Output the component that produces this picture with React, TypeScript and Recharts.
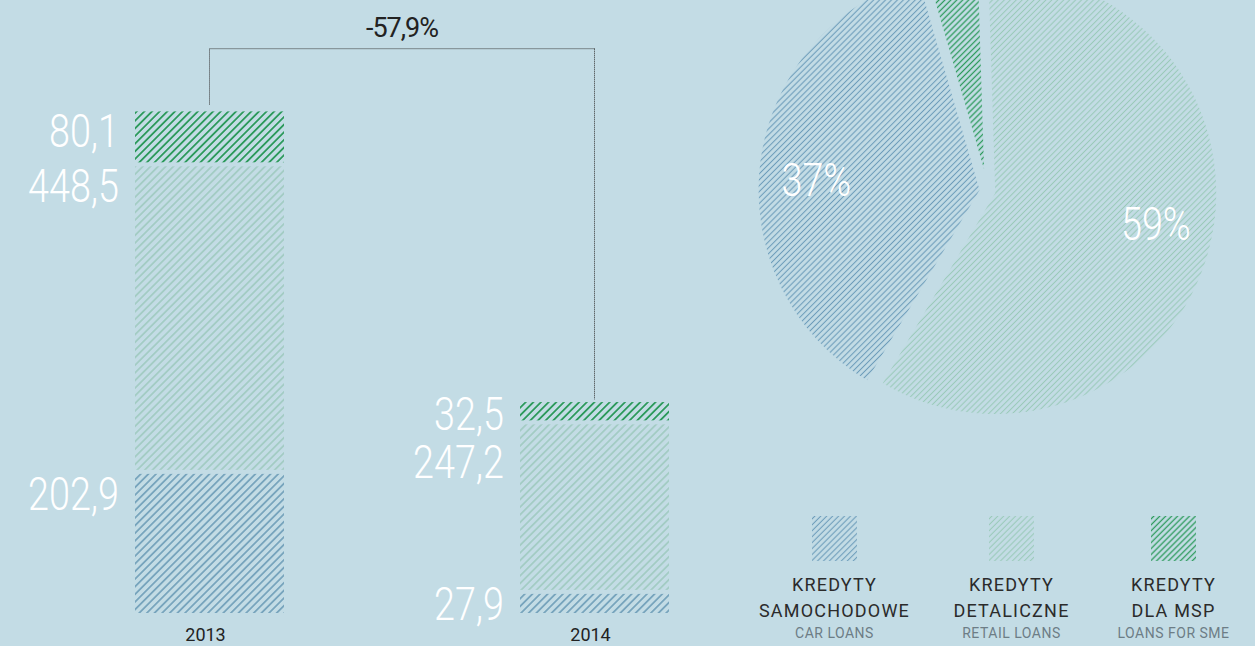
import React from 'react';
import {
  BarChart,
  Bar,
  XAxis,
  YAxis,
  LabelList,
  ReferenceLine,
  PieChart,
  Pie,
  Cell,
  Legend,
} from 'recharts';

// --- data ---
const years = ['2013', '2014'];
const carLoans = [202.9, 27.9];
const retailLoans = [448.5, 247.2];
const smeLoans = [80.1, 32.5];
const changeLabel = '-57,9%';

const pieNames = ['KREDYTY DETALICZNE', 'KREDYTY DLA MSP', 'KREDYTY SAMOCHODOWE'];
const pieShares = [59, 4, 37];

const legendTitles = [
  ['KREDYTY', 'SAMOCHODOWE'],
  ['KREDYTY', 'DETALICZNE'],
  ['KREDYTY', 'DLA MSP'],
];
const legendSubtitles = ['CAR LOANS', 'RETAIL LOANS', 'LOANS FOR SME'];

// --- look ---
const BG = '#c3dce5';
const FONT = 'Roboto, "DejaVu Sans", sans-serif';
const CAP = 33; // cap height of the big white numbers
const GAP = 4; // space between stacked segments
const RAD = Math.PI / 180;

const barData = years.map((year, i) => ({
  year,
  car: carLoans[i],
  retail: retailLoans[i],
  sme: smeLoans[i],
}));
const totals = years.map((_, i) => carLoans[i] + retailLoans[i] + smeLoans[i]);
const bracketTop = Math.max(...totals) * 1.125;

const pieData = pieNames.map((name, i) => ({ name, value: pieShares[i] }));
const pieTotal = pieShares.reduce((a, b) => a + b, 0);
const PIE_START = -120.6;
const PIE_CX = 242.5;
const PIE_CY = 186;
const PIE_R = 221;
const pieFills = ['url(#pie-retail)', 'url(#pie-sme)', 'url(#pie-car)'];
const explode = [8, 22, 8];
const legendFills = ['url(#pie-car)', 'url(#pie-retail)', 'url(#pie-sme)'];
const legendWidths = [160, 130, 130];

const fmt = (v: number) => v.toFixed(1).replace('.', ',');

// diagonal "/" hatching
function Hatch({ id, color, spacing, width }: { id: string; color: string; spacing: number; width: number }) {
  return (
    <pattern
      id={id}
      patternUnits="userSpaceOnUse"
      width={spacing}
      height={spacing}
      patternTransform="rotate(45)"
    >
      <line x1={spacing / 2} y1={0} x2={spacing / 2} y2={spacing} stroke={color} strokeWidth={width} />
    </pattern>
  );
}

function BigNumber({ x, y, text, anchor }: { x: number; y: number; text: string; anchor: 'end' | 'middle' }) {
  return (
    <g transform={`translate(${x},${y}) scale(0.82,1)`}>
      <text x={0} y={0} textAnchor={anchor} fill="#ffffff" fontFamily={FONT} fontWeight={300} fontSize={46}>
        {text}
      </text>
    </g>
  );
}

const segmentShape = (gap: number) => (p: any) => (
  <rect x={p.x} y={p.y} width={p.width} height={Math.max(0, p.height - gap)} fill={p.fill} />
);

const segmentLabel = (above?: number[]) => (props: any) => {
  const vb = props.viewBox && props.viewBox.width != null ? props.viewBox : props;
  const { x, y, height } = vb;
  const value = Number(props.value);
  if (!value) return null;
  const scale = height / value;
  let base: number;
  if (height < 40) {
    base = y + height / 2 + CAP / 2;
  } else {
    base = y + 3 + CAP;
    // leave room for the centred label of a thin segment above
    if (above && props.index != null && above[props.index] * scale < 40) base += 18;
  }
  return <BigNumber x={x - 16} y={base} text={fmt(value)} anchor="end" />;
};

const YearTick = ({ x, y, payload }: any) => (
  <text x={x - 4} y={y} dy={20} textAnchor="middle" fill="#222" fontFamily={FONT} fontSize={18}>
    {payload.value}
  </text>
);

const renderPieLabel = (visible: number) => (p: any) => {
  const value = p.value ?? p.payload?.value;
  if (p.index !== visible || value < 10) return null;
  const r = p.outerRadius * 0.74;
  const angle = p.midAngle + 3.5;
  const x = p.cx + r * Math.cos(-angle * RAD);
  const y = p.cy + r * Math.sin(-angle * RAD);
  return <BigNumber x={x} y={y + CAP / 2} text={`${value}%`} anchor="middle" />;
};

function LegendBlock() {
  return (
    <div style={{ display: 'flex', gap: 32, fontFamily: FONT }}>
      {legendTitles.map((lines, i) => (
        <div
          key={i}
          style={{ width: legendWidths[i], display: 'flex', flexDirection: 'column', alignItems: 'center' }}
        >
          <svg width={45} height={45} style={{ display: 'block' }}>
            <rect width={45} height={45} fill={legendFills[i]} />
          </svg>
          <div style={{ marginTop: 11, textAlign: 'center' }}>
            {lines.map((t) => (
              <div key={t} style={{ fontSize: 18, lineHeight: '26px', letterSpacing: 1.2, color: '#2b2b2b' }}>
                {t}
              </div>
            ))}
            <div style={{ fontSize: 14, lineHeight: '18px', letterSpacing: 0.5, color: '#6d7d86' }}>
              {legendSubtitles[i]}
            </div>
          </div>
        </div>
      ))}
    </div>
  );
}

export default function App() {
  let cum = 0;
  const offsets = pieShares.map((v, i) => {
    const mid = PIE_START + ((cum + v / 2) / pieTotal) * 360;
    cum += v;
    return { dx: explode[i] * Math.cos(mid * RAD), dy: -explode[i] * Math.sin(mid * RAD) };
  });

  return (
    <div
      style={{
        position: 'absolute',
        left: 0,
        top: 0,
        width: 1255,
        height: 646,
        background: BG,
        overflow: 'hidden',
      }}
    >
      <div style={{ position: 'absolute', left: 0, top: 0 }}>
        <BarChart
          width={790}
          height={646}
          data={barData}
          margin={{ top: 37, right: 3, bottom: 0, left: 17 }}
          barSize={149}
        >
          <defs>
            <Hatch id="bar-car" color="#5a8fad" spacing={5.4} width={1.3} />
            <Hatch id="bar-retail" color="#93c4b4" spacing={5.4} width={1.2} />
            <Hatch id="bar-sme" color="#2c9a5b" spacing={5.4} width={1.8} />
            <Hatch id="pie-car" color="#6d9dba" spacing={4.2} width={1.1} />
            <Hatch id="pie-retail" color="#9acab9" spacing={4.2} width={1.1} />
            <Hatch id="pie-sme" color="#2c9a5b" spacing={4.2} width={1.3} />
          </defs>
          <XAxis
            dataKey="year"
            axisLine={false}
            tickLine={false}
            tickSize={0}
            tickMargin={8}
            height={33}
            tick={<YearTick />}
            interval={0}
          />
          <YAxis hide domain={[0, 840]} />
          <Bar dataKey="car" stackId="a" fill="url(#bar-car)" shape={segmentShape(0)} isAnimationActive={false}>
            <LabelList dataKey="car" content={segmentLabel()} />
          </Bar>
          <Bar dataKey="retail" stackId="a" fill="url(#bar-retail)" shape={segmentShape(GAP)} isAnimationActive={false}>
            <LabelList dataKey="retail" content={segmentLabel(smeLoans)} />
          </Bar>
          <Bar dataKey="sme" stackId="a" fill="url(#bar-sme)" shape={segmentShape(GAP)} isAnimationActive={false}>
            <LabelList dataKey="sme" content={segmentLabel()} />
          </Bar>
          <ReferenceLine
            segment={[
              { x: years[0], y: totals[0] + 10 },
              { x: years[0], y: bracketTop },
            ]}
            stroke="#333"
            strokeDasharray="1 1"
            ifOverflow="visible"
          />
          <ReferenceLine
            segment={[
              { x: years[0], y: bracketTop },
              { x: years[1], y: bracketTop },
            ]}
            stroke="#333"
            strokeDasharray="1 1"
            ifOverflow="visible"
            label={(p: any) => {
              const vb = p.viewBox || {};
              const cx = (vb.x ?? 0) + (vb.width ?? 0) / 2;
              return (
                <text
                  x={cx}
                  y={(vb.y ?? 0) - 12}
                  textAnchor="middle"
                  fill="#222"
                  fontFamily={FONT}
                  fontSize={27}
                  style={{ letterSpacing: -1 }}
                >
                  {changeLabel}
                </text>
              );
            }}
          />
          <ReferenceLine
            segment={[
              { x: years[1], y: bracketTop },
              { x: years[1], y: totals[1] + 4 },
            ]}
            stroke="#333"
            strokeDasharray="1 1"
            ifOverflow="visible"
          />
        </BarChart>
      </div>
      <div style={{ position: 'absolute', left: 740, top: 0 }}>
        <PieChart width={515} height={646}>
          {pieShares.map((_, i) => (
            <Pie
              key={i}
              data={pieData}
              dataKey="value"
              nameKey="name"
              cx={PIE_CX + offsets[i].dx}
              cy={PIE_CY + offsets[i].dy}
              outerRadius={PIE_R}
              startAngle={PIE_START}
              endAngle={PIE_START + 360}
              stroke="none"
              labelLine={false}
              label={renderPieLabel(i)}
              isAnimationActive={false}
            >
              {pieData.map((d, j) => (
                <Cell key={d.name} fill={j === i ? pieFills[j] : 'none'} stroke="none" />
              ))}
            </Pie>
          ))}
          <Legend
            content={() => <LegendBlock />}
            wrapperStyle={{ left: 14.5, top: 516, width: 500, bottom: 'auto' }}
          />
        </PieChart>
      </div>
    </div>
  );
}
